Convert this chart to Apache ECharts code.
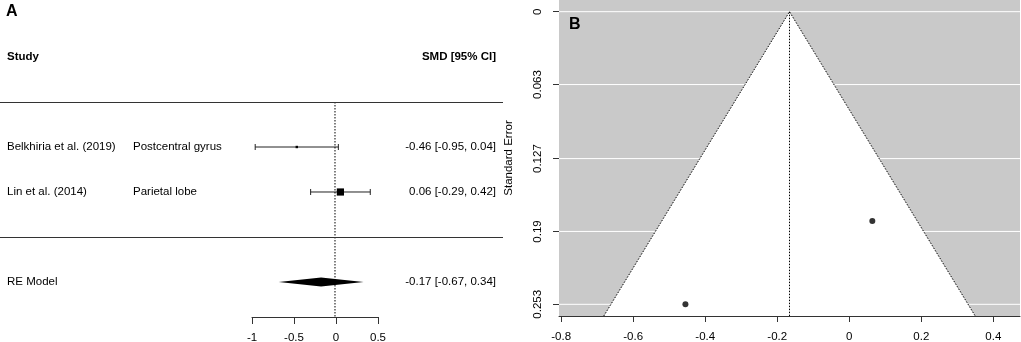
<!DOCTYPE html>
<html>
<head>
<meta charset="utf-8">
<script src="https://cdn.jsdelivr.net/npm/echarts@6/dist/echarts.min.js"></script>
<style>
  html, body { margin: 0; padding: 0; background: #fff; }
  #chart { width: 1021px; height: 342px; }
</style>
</head>
<body>
<div id="chart"></div>
<script>
// 森林图 + 漏斗图 数据
var studies = ['Belkhiria et al. (2019)', 'Lin et al. (2014)'];
var regions = ['Postcentral gyrus', 'Parietal lobe'];
var smd = [-0.455, 0.064];
var ciLow = [-0.95, -0.29];
var ciHigh = [0.04, 0.42];
var se = [0.253, 0.181];
var reEst = -0.166, reLow = -0.67, reHigh = 0.34;
var forestTicks = [-1, -0.5, 0, 0.5];
var funnelXTicks = [-0.8, -0.6, -0.4, -0.2, 0, 0.2, 0.4];
var seTicks = [0, 0.063, 0.127, 0.19, 0.253];

var FONT = 'Liberation Sans, Arial, sans-serif';
var FS = 11.5;

// 行号：研究自上而下 k..1, 汇总行 -1
var k = studies.length;
var w = se.map(function (s) { return 1 / (s * s); });
var wMin = Math.min.apply(null, w), wMax = Math.max.apply(null, w);
var forestData = studies.map(function (s, i) {
    var psize = 0.5 + (w[i] - wMin) / (wMax - wMin || 1);
    return [smd[i], ciLow[i], ciHigh[i], k - i, psize, i];
});
function fmt(est, lo, hi) {
    return est.toFixed(2) + ' [' + lo.toFixed(2) + ', ' + hi.toFixed(2) + ']';
}

var seMax = 0.2631, seMin = -0.0101;

var myChart = echarts.init(document.getElementById('chart'));

var option = {
    animation: false,
    textStyle: { fontFamily: FONT },
    grid: [
        { left: 0, top: 0, width: 503, height: 317, outerBoundsMode: 'none' },
        { left: 252, top: 300, width: 126, height: 17, outerBoundsMode: 'none' },
        { left: 559, top: 0, width: 461, height: 316, outerBoundsMode: 'none' }
    ],
    xAxis: [
        { gridIndex: 0, type: 'value', min: -3.988, max: 2.0, show: false },
        {
            gridIndex: 1, type: 'value', min: -1, max: 0.5, interval: 0.5,
            axisLine: { lineStyle: { color: '#333', width: 1 } },
            axisTick: { length: 7, lineStyle: { color: '#333' } },
            axisLabel: { color: '#000', fontSize: FS, margin: 15, fontFamily: FONT,
                formatter: function (v) { return String(v); } },
            splitLine: { show: false }
        },
        {
            gridIndex: 2, type: 'value', min: -0.806, max: 0.474,
            axisLine: { onZero: false, lineStyle: { color: '#333', width: 1 } },
            axisTick: { length: 6, lineStyle: { color: '#333' }, customValues: funnelXTicks },
            axisLabel: { color: '#000', fontSize: FS, margin: 15, fontFamily: FONT,
                customValues: funnelXTicks,
                formatter: function (v) { return String(+v.toFixed(1)); } },
            splitLine: { show: false }
        }
    ],
    yAxis: [
        { gridIndex: 0, type: 'value', min: -1.778, max: 5.267, show: false },
        { gridIndex: 1, type: 'value', show: false },
        {
            gridIndex: 2, type: 'value', inverse: true, min: seMin, max: seMax,
            name: 'Standard Error', nameLocation: 'middle', nameGap: 44,
            nameTextStyle: { color: '#000', fontSize: FS, fontFamily: FONT },
            axisLine: { onZero: false, lineStyle: { color: '#333', width: 1 } },
            axisTick: { length: 6, lineStyle: { color: '#333' }, customValues: seTicks },
            axisLabel: { color: '#000', fontSize: FS, margin: 15, rotate: 90, fontFamily: FONT,
                customValues: seTicks,
                formatter: function (v) { return String(v); } },
            splitLine: { show: false }
        }
    ],
    graphic: [
        { type: 'text', z: 100, left: 6, top: 4, style: { text: 'A', font: 'bold 16px ' + FONT, fill: '#000' } },
        { type: 'text', z: 100, left: 569, top: 17, style: { text: 'B', font: 'bold 16px ' + FONT, fill: '#000' } }
    ],
    series: [
        // 虚线 x=0 与两条横线
        {
            type: 'line', xAxisIndex: 0, yAxisIndex: 0, symbol: 'none', silent: true,
            data: [[0, 3], [0, -1.778]],
            lineStyle: { color: '#000', width: 1, type: [1.5, 1.5] },
            markLine: {
                silent: true, symbol: 'none', label: { show: false },
                lineStyle: { color: '#333', width: 1, type: 'solid' },
                data: [{ yAxis: 3 }, { yAxis: 0 }]
            }
        },
        // 表头
        {
            type: 'custom', xAxisIndex: 0, yAxisIndex: 0, silent: true,
            data: [[0, k + 2]],
            renderItem: function (params, api) {
                var y = api.coord([0, api.value(1)])[1];
                return { type: 'group', children: [
                    { type: 'text', style: { text: 'Study', x: 7, y: y, verticalAlign: 'middle',
                        font: 'bold ' + FS + 'px ' + FONT, fill: '#000' } },
                    { type: 'text', style: { text: 'SMD [95% CI]', x: 496, y: y, align: 'right',
                        verticalAlign: 'middle', font: 'bold ' + FS + 'px ' + FONT, fill: '#000' } }
                ] };
            }
        },
        // 各研究
        {
            type: 'custom', xAxisIndex: 0, yAxisIndex: 0, silent: true,
            data: forestData,
            renderItem: function (params, api) {
                var est = api.value(0), lo = api.value(1), hi = api.value(2), row = api.value(3);
                var i = api.value(5);
                var p = api.coord([est, row]);
                var a = api.coord([lo, row]), b = api.coord([hi, row]);
                var sz = api.value(4) * 4.8;
                var ls = { stroke: '#222', lineWidth: 1 };
                return { type: 'group', children: [
                    { type: 'line', shape: { x1: a[0], y1: a[1], x2: b[0], y2: b[1] }, style: ls },
                    { type: 'line', shape: { x1: a[0], y1: a[1] - 3, x2: a[0], y2: a[1] + 3 }, style: ls },
                    { type: 'line', shape: { x1: b[0], y1: b[1] - 3, x2: b[0], y2: b[1] + 3 }, style: ls },
                    { type: 'rect', shape: { x: p[0] - sz / 2, y: p[1] - sz / 2, width: sz, height: sz },
                        style: { fill: '#000' } },
                    { type: 'text', style: { text: studies[i], x: 7, y: p[1], verticalAlign: 'middle',
                        font: FS + 'px ' + FONT, fill: '#000' } },
                    { type: 'text', style: { text: regions[i], x: 133, y: p[1], verticalAlign: 'middle',
                        font: FS + 'px ' + FONT, fill: '#000' } },
                    { type: 'text', style: { text: fmt(smd[i], ciLow[i], ciHigh[i]), x: 496, y: p[1],
                        align: 'right', verticalAlign: 'middle', font: FS + 'px ' + FONT, fill: '#000' } }
                ] };
            }
        },
        // 汇总菱形
        {
            type: 'custom', xAxisIndex: 0, yAxisIndex: 0, silent: true,
            data: [[reEst, reLow, reHigh, -1]],
            renderItem: function (params, api) {
                var row = api.value(3);
                var p = api.coord([api.value(0), row]);
                var a = api.coord([api.value(1), row]), b = api.coord([api.value(2), row]);
                return { type: 'group', children: [
                    { type: 'polygon', shape: { points: [[a[0], a[1]], [p[0], p[1] - 4.5], [b[0], b[1]], [p[0], p[1] + 4.5]] },
                        style: { fill: '#000' } },
                    { type: 'text', style: { text: 'RE Model', x: 7, y: p[1], verticalAlign: 'middle',
                        font: FS + 'px ' + FONT, fill: '#000' } },
                    { type: 'text', style: { text: fmt(api.value(0), api.value(1), api.value(2)), x: 496, y: p[1],
                        align: 'right', verticalAlign: 'middle', font: FS + 'px ' + FONT, fill: '#000' } }
                ] };
            }
        },
        // 漏斗背景
        {
            type: 'custom', xAxisIndex: 2, yAxisIndex: 2, silent: true, z: 1,
            data: [[reEst, 0]],
            renderItem: function (params, api) {
                var cs = params.coordSys;
                var est = api.value(0);
                var top = api.coord([est, 0]);
                var bl = api.coord([est - 1.96 * seMax, seMax]);
                var br = api.coord([est + 1.96 * seMax, seMax]);
                var bc = api.coord([est, seMax]);
                var children = [
                    { type: 'rect', shape: { x: cs.x, y: cs.y, width: cs.width, height: cs.height },
                        style: { fill: '#c9c9c9' } },
                    { type: 'polygon', shape: { points: [bl, top, br] }, style: { fill: '#fff' } }
                ];
                seTicks.forEach(function (t) {
                    var y = api.coord([est, t])[1];
                    children.push({ type: 'line', shape: { x1: cs.x, y1: y, x2: cs.x + cs.width, y2: y },
                        style: { stroke: '#fff', lineWidth: 1 } });
                });
                var dl = { fill: null, stroke: '#000', lineWidth: 1, lineDash: [1.5, 1.5] };
                children.push({ type: 'polyline', shape: { points: [bl, top, br] }, style: dl });
                children.push({ type: 'line', shape: { x1: top[0], y1: top[1], x2: bc[0], y2: bc[1] }, style: dl });
                return { type: 'group', children: children };
            }
        },
        {
            type: 'scatter', xAxisIndex: 2, yAxisIndex: 2, z: 3, silent: true,
            symbolSize: 6, itemStyle: { color: '#000' },
            data: smd.map(function (v, i) { return [v, se[i]]; })
        }
    ]
};

myChart.setOption(option);
</script>
</body>
</html>
